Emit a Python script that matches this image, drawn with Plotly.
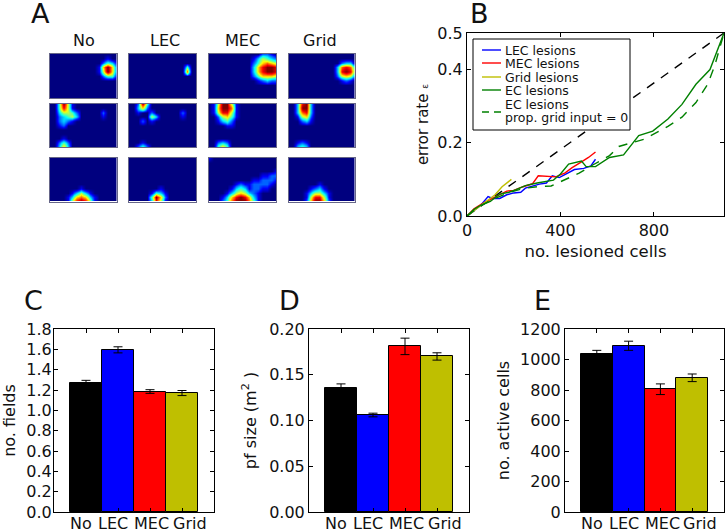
import plotly.graph_objects as go

W, H = 727, 532

conditions = ["No", "LEC", "MEC", "Grid"]
bar_colors = ["#000000", "#0000ff", "#ff0000", "#bfbf00"]
# x tick labels of the bar panels sit off their ticks in the original
label_x = [0.84, 1.84, 3.06, 4.25]

# Rate maps, coarse grid, digits 0-9 are the rate
maps = {
    (0, 0): ["0000000000000000", "0000000000000100", "0000000000002431", "0000000000016962",
             "0000000000015962", "0000000000002441", "0000000000000000", "0000000000000000",
             "0000000000000000", "0000000000000000", "0000000000000000"],
    (0, 1): ["0000000000000000", "0000000000000000", "0000000000000000", "0000000000000400",
             "0000000000000700", "0000000000000000", "0000000000000000", "0000000000000000",
             "0000000000000000", "0000000000000000", "0000000000000000"],
    (0, 2): ["0000000000002210", "0000000000135432", "0000000000246765", "0000000000368998",
             "0000000000368998", "0000000000246665", "0000000000012322", "0000000000000000",
             "0000000000000000", "0000000000000000", "0000000000000000"],
    (0, 3): ["0000000000000000", "0000000000000000", "0000000000002330", "0000000000037873",
             "0000000000038984", "0000000000025652", "0000000000001210", "0000000000000000",
             "0000000000000000", "0000000000000000", "0000000000000000"],
    (1, 0): ["0049510000000000", "0048510000000000", "0035542000002000", "0023453000001000",
             "0023210000000000", "0012000000000000", "0000000000000000", "0000000000000000",
             "0001000000000000", "0024200000000000", "0036300000000000"],
    (1, 1): ["0029400000000000", "0036200000000000", "0010020000002000", "0000053000001000",
             "0002010000000000", "0000000000000000", "0000000000000000", "0000000000000000",
             "0000000000000000", "0001000000000000", "0024200000000000"],
    (1, 2): ["0159951000000000", "0169971000000000", "0158851000000000", "0025641000000000",
             "0013420000000000", "0000110000000000", "0000000000000000", "0000000000000000",
             "0000000000000000", "0023200000000000", "0046400000000000"],
    (1, 3): ["0038930000000000", "0039930000000000", "0037830000000000", "0015620000000000",
             "0002310000000000", "0000000000000000", "0000000000000000", "0000000000000000",
             "0000000000000000", "0012100000000000", "0034300000000000"],
    (2, 0): ["0000000000000000", "0000000000000000", "0000000000000000", "0000000000000000",
             "0000000000000000", "0000000000000000", "0000000000000000", "0000000100000000",
             "0000013531000000", "0000136763100000", "0000158985100000"],
    (2, 1): ["0000000000000000", "0000000000000000", "0000000000000000", "0000000000000000",
             "0000000000000000", "0000000000000000", "0000000000000000", "0000000100000000",
             "0000014310000000", "0000049620000000", "0000038510000000"],
    (2, 2): ["1000000000000000", "0000000000000000", "0000000000000000", "0000000000000001",
             "0000000000001122", "0000000000112221", "0000001211222210", "0000013431221100",
             "0000135653210000", "0001368986310000", "0002479997410000"],
    (2, 3): ["0000000000000000", "0000000000000000", "0000000000000000", "0000000000000000",
             "0000000000000000", "0000000000000000", "0000000100000000", "0000012310000000",
             "0000135531000000", "0000158851000000", "0000269962000000"],
}

chance_x = [0, 1100]
chance_y = [0, 0.5]
lec_x = [0, 30, 60, 90, 110, 140, 170, 200, 230, 250, 280, 310, 340, 365, 395, 430, 460, 500, 530, 550]
lec_y = [0, .015, .03, .053, .048, .048, .058, .063, .065, .076, .082, .087, .09, .11, .105, .118, .127, .13, .137, .155]
mec_x = [0, 30, 60, 100, 130, 170, 200, 240, 280, 305, 340, 380, 420, 450, 490, 520, 550]
mec_y = [0, .02, .032, .044, .055, .068, .07, .08, .088, .11, .108, .107, .118, .132, .148, .16, .175]
grid_x = [0, 40, 80, 120, 150, 190]
grid_y = [0, .02, .038, .058, .08, .1]
ec_x = [0, 30, 60, 100, 140, 180, 210, 250, 300, 340, 370, 400, 435, 490, 510, 550, 610, 670, 735, 795, 860, 920, 980, 1040, 1065, 1100]
ec_y = [0, .018, .03, .04, .06, .065, .072, .083, .09, .095, .098, .115, .142, .15, .135, .135, .16, .167, .22, .232, .265, .305, .36, .4, .44, .5]
ec0_x = [0, 50, 110, 170, 240, 300, 360, 420, 480, 540, 610, 650, 700, 760, 860, 920, 980, 1030, 1060, 1100]
ec0_y = [0, .025, .045, .062, .075, .08, .082, .1, .117, .14, .165, .19, .2, .21, .245, .27, .31, .36, .41, .5]

fields = [1.27, 1.595, 1.185, 1.17]
fields_err = [.025, .03, .018, .025]
pf_size = [.136, .106, .181, .170]
pf_size_err = [.004, .002, .009, .004]
active = [1035, 1090, 805, 880]
active_err = [25, 30, 35, 25]

jet = [[0, "#00007f"], [.125, "#0000ff"], [.375, "#00ffff"], [.625, "#ffff00"], [.875, "#ff0000"], [1, "#7f0000"]]
FONT = "DejaVu Sans"
DASH = "9px,8px"


def xdom(a, b):
    return [a / W, b / W]


def ydom(top, bottom):
    return [1 - bottom / H, 1 - top / H]


fig = go.Figure()
layout = {}
annotations = []
n = 0

# panel A
col_px = [(50, 116.5), (129, 196), (209, 276), (288.5, 355)]
row_px = [(54, 98), (103.5, 147), (158, 201.5)]
for (r, c), rows in maps.items():
    n += 1
    suffix = "" if n == 1 else str(n)
    fig.add_trace(go.Heatmap(z=[[int(d) for d in row] for row in rows], zmin=0, zmax=9, zsmooth="best",
                             colorscale=jet, showscale=False, hoverinfo="skip",
                             xaxis="x" + suffix, yaxis="y" + suffix))
    common = dict(showticklabels=False, ticks="", showgrid=False, zeroline=False, showline=True,
                  mirror=True, linecolor="#666688", linewidth=1)
    layout["xaxis" + suffix] = dict(domain=xdom(*col_px[c]), range=[0, 15], anchor="y" + suffix, **common)
    layout["yaxis" + suffix] = dict(domain=ydom(*row_px[r]), range=[10, 0], anchor="x" + suffix, **common)


def axis_style():
    return dict(showline=True, mirror="ticks", linecolor="black", linewidth=1, ticks="inside", ticklen=4,
                tickcolor="black", showgrid=False, zeroline=False, tickangle=0, automargin=False,
                tickfont=dict(size=16, color="#111111"))


# panel B
n += 1
sb = str(n)
series = [(chance_x, chance_y, "#000000", "dash", "chance"),
          (lec_x, lec_y, "#0000ff", "solid", "LEC lesions"),
          (mec_x, mec_y, "#ff0000", "solid", "MEC lesions"),
          (grid_x, grid_y, "#bfbf00", "solid", "Grid lesions"),
          (ec_x, ec_y, "#008000", "solid", "EC lesions"),
          (ec0_x, ec0_y, "#008000", "dash", "EC lesions, prop. grid input = 0")]
for x, y, color, dash, name in series:
    fig.add_trace(go.Scatter(x=x, y=y, mode="lines", name=name, showlegend=False,
                             line=dict(color=color, width=1.4, dash=DASH if dash == "dash" else dash),
                             xaxis="x" + sb, yaxis="y" + sb))
layout["xaxis" + sb] = dict(domain=xdom(467, 724), range=[0, 1100], anchor="y" + sb, tickvals=[0, 400, 800],
                            title=dict(text="no. lesioned cells", font=dict(size=16.5), standoff=6), **axis_style())
layout["yaxis" + sb] = dict(domain=ydom(33, 216), range=[0, 0.5], anchor="x" + sb,
                            tickvals=[0, .2, .4, .5], ticktext=["0.0", "0.2", "0.4", "0.5"],
                            title=dict(text='error rate <span style="font-size:9px">ε</span>', font=dict(size=15), standoff=5),
                            **axis_style())

# panels C, D, E
bar_panels = [(fields, fields_err, (54, 214), [0, 1.8], .2, "%.1f", "no. fields", 6, -2),
              (pf_size, pf_size_err, (309, 469), [0, .2], .05, "%.2f", "pf size (m<sup>2</sup> )", 8, 0),
              (active, active_err, (565, 724), [0, 1200], 200, "%d", "no. active cells", 6, 0)]
for vals, errs, (x0, x1), yrange, step, fmt, title, standoff, label_pad in bar_panels:
    n += 1
    s = str(n)
    fig.add_trace(go.Bar(x=[1, 2, 3, 4], y=vals, width=1, marker=dict(color=bar_colors, line=dict(color="black", width=1)),
                         error_y=dict(type="data", array=errs, color="black", thickness=1, width=4.5),
                         showlegend=False, xaxis="x" + s, yaxis="y" + s))
    layout["xaxis" + s] = dict(domain=xdom(x0, x1), range=[0, 5], anchor="y" + s, tickvals=[1, 2, 3, 4],
                               showticklabels=False, **axis_style())
    tick_count = round(yrange[1] / step) + 1
    ticks = [round(i * step, 2) for i in range(tick_count)]
    layout["yaxis" + s] = dict(domain=ydom(329, 512), range=yrange, anchor="x" + s, tickvals=ticks,
                               ticktext=[fmt % t for t in ticks], ticklabelstandoff=label_pad,
                               title=dict(text=title, font=dict(size=16), standoff=standoff), **axis_style())
    for cond, lx in zip(conditions, label_x):
        annotations.append(dict(text=cond, x=lx, y=1 - 523 / H, xref="x" + s, yref="paper", showarrow=False,
                                xanchor="center", yanchor="middle", font=dict(size=16, color="#111111")))

# texts and hand-built legend box of panel B
shapes = [dict(type="rect", xref="paper", yref="paper", x0=473 / W, x1=630 / W, y0=1 - 130 / H, y1=1 - 39 / H,
               line=dict(color="black", width=1), fillcolor="white", layer="above")]


def text(x, y, s, size):
    annotations.append(dict(text=s, x=x / W, y=1 - y / H, xref="paper", yref="paper", showarrow=False,
                            xanchor="center", yanchor="middle", font=dict(size=size, color="#111111")))


for letter, x, y in [("A", 40, 14), ("B", 479, 14), ("C", 33, 300), ("D", 289, 300), ("E", 542, 300)]:
    text(x, y, letter, 27)
for cond, x in zip(conditions, [84, 165, 243, 320]):
    text(x, 41, cond, 16)

legend_keys = [("#0000ff", "solid", 50), ("#ff0000", "solid", 63), ("#bfbf00", "solid", 77),
               ("#008000", "solid", 90), ("#008000", "dash", 112)]
for color, dash, y in legend_keys:
    shapes.append(dict(type="line", xref="paper", yref="paper", x0=482 / W, x1=501 / W, y0=1 - y / H, y1=1 - y / H,
                       line=dict(color=color, width=1.4, dash="7px,5px" if dash == "dash" else "solid"), layer="above"))
for label, y in [("LEC lesions", 50), ("MEC lesions", 63), ("Grid lesions", 77), ("EC lesions", 90),
                 ("EC lesions", 104), ("prop. grid input = 0", 118)]:
    annotations.append(dict(text=label, x=503 / W, y=1 - y / H, xref="paper", yref="paper", showarrow=False,
                            xanchor="left", yanchor="middle", font=dict(size=12.5, color="#111111")))

fig.update_layout(width=W, height=H, margin=dict(l=0, r=0, t=0, b=0), paper_bgcolor="white", plot_bgcolor="white",
                  font=dict(family=FONT, color="#111111"), showlegend=False, bargap=0,
                  annotations=annotations, shapes=shapes, **layout)

fig.write_html("out.html", config=dict(displayModeBar=False), post_script="document.body.style.margin='0';")
